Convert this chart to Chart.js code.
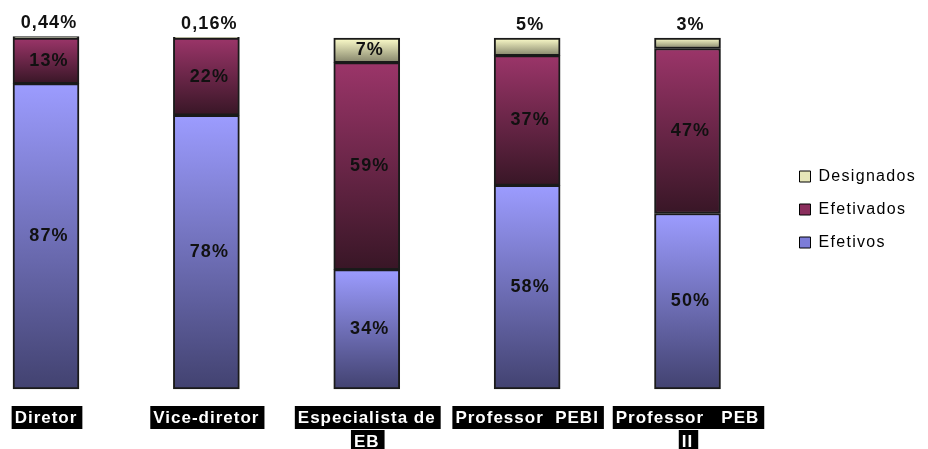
<!DOCTYPE html>
<html>
<head>
<meta charset="utf-8">
<script src="https://cdn.jsdelivr.net/npm/chart.js@4/dist/chart.umd.min.js"></script>
<style>
  html, body { margin: 0; padding: 0; background: #fff; }
  #wrap { width: 928px; height: 449px; }
</style>
</head>
<body>
<div id="wrap"><canvas id="c"></canvas></div>
<script>
// categories (multi-line where the original wraps)
const categories = [['Diretor'], ['Vice-diretor'], ['Especialista de', 'EB'], ['Professor  PEBI'], ['Professor   PEB', 'II']];
const efetivos   = [87, 78, 34, 58, 50];
const efetivados = [13, 22, 59, 37, 47];
const designados = [0.44, 0.16, 7, 5, 3];
const seriesNames = ['Efetivos', 'Efetivados', 'Designados'];

const series = [efetivos, efetivados, designados];
// top (light) -> bottom (dark) of each segment
const shades = [['#9c9cff', '#424270'], ['#9b3569', '#381626'], ['#ffffcc', '#84846a']];
const legendColors = ['#7c7cd8', '#8a2d5c', '#e6e6b8'];
const FONT = '"Liberation Sans", Arial, sans-serif';
const LEGEND_SPACING = '1.3px';

function segGradient(si) {
  return function (ctx) {
    if (ctx.type !== 'data') return shades[si][0];
    const chart = ctx.chart, y = chart.scales.y;
    if (!y || !chart.chartArea) return shades[si][0];
    let start = 0;
    for (let k = 0; k < si; k++) start += series[k][ctx.dataIndex];
    const top = y.getPixelForValue(start + series[si][ctx.dataIndex]);
    const bot = y.getPixelForValue(start);
    if (!isFinite(top) || !isFinite(bot) || top === bot) return shades[si][0];
    const g = chart.ctx.createLinearGradient(0, top, 0, bot);
    g.addColorStop(0, shades[si][0]);
    g.addColorStop(1, shades[si][1]);
    return g;
  };
}

// percentage labels on / above each segment
const valueLabels = {
  id: 'valueLabels',
  afterDatasetsDraw(chart) {
    const c = chart.ctx;
    c.save();
    c.font = 'bold 18px ' + FONT;
    c.letterSpacing = '1.1px';
    c.fillStyle = '#111';
    c.textAlign = 'center';
    c.textBaseline = 'middle';
    chart.data.datasets.forEach((ds, di) => {
      chart.getDatasetMeta(di).data.forEach((bar, i) => {
        const p = bar.getProps(['x', 'y', 'base'], true);
        const txt = String(ds.data[i]).replace('.', ',') + '%';
        const h = Math.abs(p.base - p.y);
        const ty = h < 20 ? Math.min(p.y, p.base) - 13 : (p.y + p.base) / 2;
        c.fillText(txt, p.x + 3, ty);
      });
    });
    c.restore();
  }
};

// category names in black boxes under the bars
const catLabels = {
  id: 'catLabels',
  afterDraw(chart) {
    const c = chart.ctx, x = chart.scales.x;
    c.save();
    c.font = 'bold 17px ' + FONT;
    c.letterSpacing = '1px';
    c.textAlign = 'center';
    c.textBaseline = 'middle';
    chart.data.labels.forEach((lab, i) => {
      const cx = x.getPixelForValue(i);
      lab.forEach((line, li) => {
        const w = c.measureText(line).width;
        const cy = chart.chartArea.bottom + 28 + li * 24;
        c.fillStyle = '#000';
        c.fillRect(cx - w / 2 - 3, cy - 11, w + 8, 23);
        c.fillStyle = '#fff';
        c.fillText(line, cx, cy + 1);
      });
    });
    c.restore();
  }
};

// wider legend lettering (measured and drawn) and a small upward nudge
const legendTweak = {
  id: 'legendTweak',
  beforeLayout(chart) { chart.ctx.letterSpacing = LEGEND_SPACING; },
  afterLayout(chart) {
    chart.ctx.letterSpacing = '0px';
    chart.legend.top -= 4;
    chart.legend.bottom -= 4;
  },
  beforeDraw(chart) { chart.ctx.letterSpacing = LEGEND_SPACING; },
  afterDraw(chart) { chart.ctx.letterSpacing = '0px'; }
};

new Chart(document.getElementById('c'), {
  type: 'bar',
  data: {
    labels: categories,
    datasets: seriesNames.map((name, si) => ({
      label: name,
      data: series[si],
      backgroundColor: segGradient(si),
      borderColor: '#1a1a1a',
      borderWidth: 2,
      borderSkipped: false,
      barThickness: 66,
      clip: false
    }))
  },
  options: {
    responsive: true,
    maintainAspectRatio: false,
    animation: false,
    layout: { padding: { left: 46, top: 38, bottom: 60, right: 2 } },
    scales: {
      x: { stacked: true, offset: false, display: false },
      y: {
        stacked: true, min: 0, max: 100, position: 'right',
        ticks: { display: false }, grid: { display: false }, border: { display: false },
        afterFit(s) { s.width = 95; }
      }
    },
    plugins: {
      tooltip: { enabled: false },
      legend: {
        position: 'right',
        reverse: true,
        labels: {
          boxWidth: 11, boxHeight: 11, padding: 17, color: '#000',
          font: { size: 16, family: FONT },
          generateLabels(chart) {
            const items = Chart.defaults.plugins.legend.labels.generateLabels(chart);
            items.forEach(it => {
              it.fillStyle = legendColors[it.datasetIndex];
              it.strokeStyle = '#000';
              it.lineWidth = 1;
            });
            return items;
          }
        }
      }
    }
  },
  plugins: [valueLabels, catLabels, legendTweak]
});
</script>
</body>
</html>
